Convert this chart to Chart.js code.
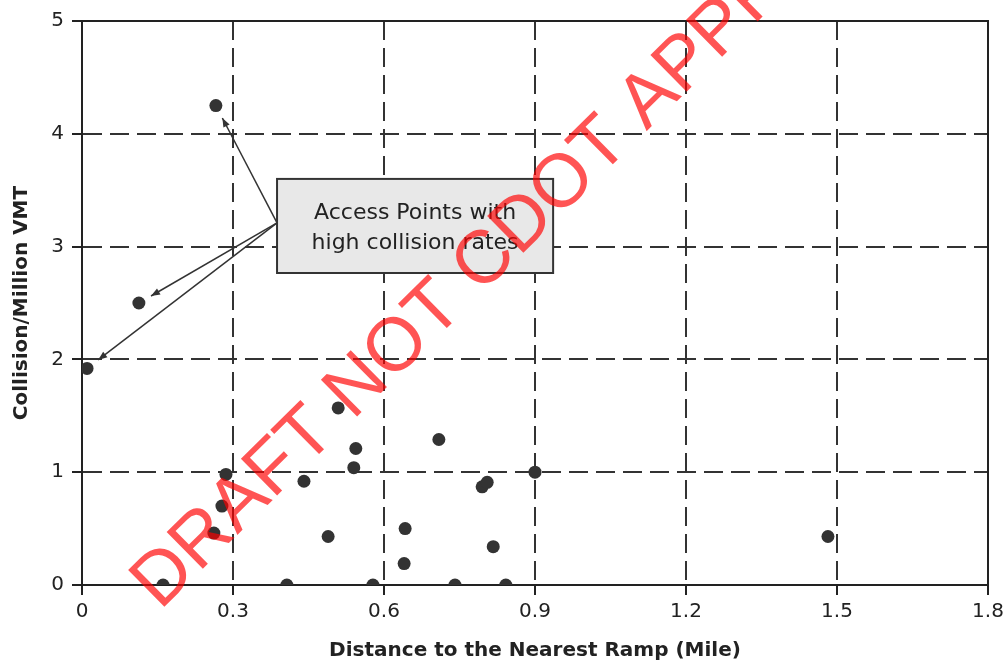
<!DOCTYPE html>
<html>
<head>
<meta charset="utf-8">
<script src="https://cdn.jsdelivr.net/npm/chart.js@4.4.0/dist/chart.umd.min.js"></script>
<style>
  body { margin: 0; background: #fff; }
  canvas { display: block; }
</style>
</head>
<body>
<canvas id="rampChart" width="1007" height="664"></canvas>
<script>
// distance to nearest ramp (mile) and collision rate per million VMT
const distance = [0.266, 0.113, 0.01, 0.509, 0.544, 0.540, 0.709, 0.90, 0.795, 0.805,
                  0.278, 0.286, 0.262, 0.441, 0.489, 0.642, 0.64, 0.817, 1.482,
                  0.161, 0.407, 0.578, 0.741, 0.842];
const collisionRate = [4.25, 2.50, 1.92, 1.57, 1.21, 1.04, 1.29, 1.00, 0.87, 0.91,
                       0.70, 0.98, 0.46, 0.92, 0.43, 0.50, 0.19, 0.34, 0.43,
                       0, 0, 0, 0, 0];
const xTicks = [0, 0.3, 0.6, 0.9, 1.2, 1.5, 1.8];
const yTicks = [0, 1, 2, 3, 4, 5];

// points the callout arrows go to (index into the arrays above)
const highRatePoints = [0, 1, 2];
const noteLines = ["Access Points with", "high collision rates"];

var punkte = distance.map((d, i) => ({ x: d, y: collisionRate[i] }));

const frame = {
    id: "frame",
    beforeDatasetsDraw(chart) {
        const { ctx, chartArea: a } = chart;
        ctx.save();
        ctx.strokeStyle = "#222";
        ctx.lineWidth = 2;
        ctx.strokeRect(a.left, a.top, a.right - a.left, a.bottom - a.top);
        ctx.restore();
    },
};

const callout = {
    id: "callout",
    afterDatasetsDraw(chart) {
        const { ctx } = chart;
        const xs = chart.scales.x, ys = chart.scales.y;
        const left = xs.getPixelForValue(0.3875), right = xs.getPixelForValue(0.936);
        const top = ys.getPixelForValue(3.60), bottom = ys.getPixelForValue(2.766);
        const sx = left, sy = ys.getPixelForValue(3.21);

        ctx.save();
        ctx.strokeStyle = "#333";
        ctx.fillStyle = "#333";
        ctx.lineWidth = 1.5;
        highRatePoints.forEach((i) => {
            const px = xs.getPixelForValue(distance[i]);
            const py = ys.getPixelForValue(collisionRate[i]);
            const dx = sx - px, dy = sy - py;
            const len = Math.sqrt(dx * dx + dy * dy);
            const ux = dx / len, uy = dy / len;
            const tx = px + ux * 14, ty = py + uy * 14;
            ctx.beginPath();
            ctx.moveTo(sx, sy);
            ctx.lineTo(tx, ty);
            ctx.stroke();
            // arrow head
            const hl = 9, hw = 3.5;
            ctx.beginPath();
            ctx.moveTo(tx, ty);
            ctx.lineTo(tx + ux * hl - uy * hw, ty + uy * hl + ux * hw);
            ctx.lineTo(tx + ux * hl + uy * hw, ty + uy * hl - ux * hw);
            ctx.closePath();
            ctx.fill();
        });

        ctx.fillStyle = "#e8e8e8";
        ctx.fillRect(left, top, right - left, bottom - top);
        ctx.lineWidth = 2;
        ctx.strokeStyle = "#333";
        ctx.strokeRect(left, top, right - left, bottom - top);

        ctx.fillStyle = "#222";
        ctx.font = "22px 'DejaVu Sans'";
        ctx.textAlign = "center";
        ctx.textBaseline = "middle";
        const cx = (left + right) / 2;
        ctx.fillText(noteLines[0], cx, top + 34);
        ctx.fillText(noteLines[1], cx, top + 64);
        ctx.restore();
    },
};

const watermark = {
    id: "watermark",
    afterDraw(chart) {
        const { ctx } = chart;
        ctx.save();
        ctx.translate(160, 611);
        ctx.rotate(-44.6 * Math.PI / 180);
        ctx.font = "75px 'Liberation Sans'";
        ctx.fillStyle = "rgba(255, 0, 0, 0.67)";
        ctx.textAlign = "left";
        ctx.textBaseline = "alphabetic";
        ctx.fillText("DRAFT NOT CDOT APPROVED", 0, 0);
        ctx.restore();
    },
};

new Chart(document.getElementById("rampChart"), {
    type: "scatter",
    data: {
        datasets: [
            {
                data: punkte,
                backgroundColor: "#333333",
                borderWidth: 0,
                pointRadius: 6.5,
                pointHoverRadius: 6.5,
            },
        ],
    },
    options: {
        responsive: false,
        animation: false,
        layout: { padding: { top: 21, right: 19, left: 0, bottom: 0 } },
        plugins: { legend: { display: false }, tooltip: { enabled: false } },
        scales: {
            x: {
                type: "linear",
                min: 0,
                max: 1.8,
                afterFit(scale) {
                    scale.height = 79;
                    scale.paddingLeft = 0;
                    scale.paddingRight = 0;
                },
                afterBuildTicks(scale) { scale.ticks = xTicks.map((v) => ({ value: v })); },
                ticks: {
                    callback: (v) => String(Number(v.toFixed(1))),
                    color: "#222",
                    font: { family: "DejaVu Sans", size: 20 },
                    padding: 5,
                    maxRotation: 0,
                },
                grid: { color: "#333", lineWidth: 2, tickLength: 10, tickColor: "#222", tickWidth: 2 },
                border: { display: true, color: "#222", width: 2, dash: [19, 8] },
                title: {
                    display: true,
                    text: "Distance to the Nearest Ramp (Mile)",
                    color: "#222",
                    font: { family: "DejaVu Sans", size: 20, weight: "bold" },
                    padding: { top: 0, bottom: 1 },
                },
            },
            y: {
                type: "linear",
                min: 0,
                max: 5,
                afterFit(scale) {
                    scale.width = 82;
                    scale.paddingTop = 0;
                    scale.paddingBottom = 0;
                },
                afterBuildTicks(scale) { scale.ticks = yTicks.map((v) => ({ value: v })); },
                ticks: {
                    color: "#222",
                    font: { family: "DejaVu Sans", size: 20 },
                    padding: 8,
                },
                grid: { color: "#333", lineWidth: 2, tickLength: 10, tickColor: "#222", tickWidth: 2 },
                border: { display: true, color: "#222", width: 2, dash: [19, 8] },
                title: {
                    display: true,
                    text: "Collision/Million VMT",
                    color: "#222",
                    font: { family: "DejaVu Sans", size: 20, weight: "bold" },
                    padding: { top: 10, bottom: 0 },
                },
            },
        },
    },
    plugins: [frame, callout, watermark],
});
</script>
</body>
</html>
